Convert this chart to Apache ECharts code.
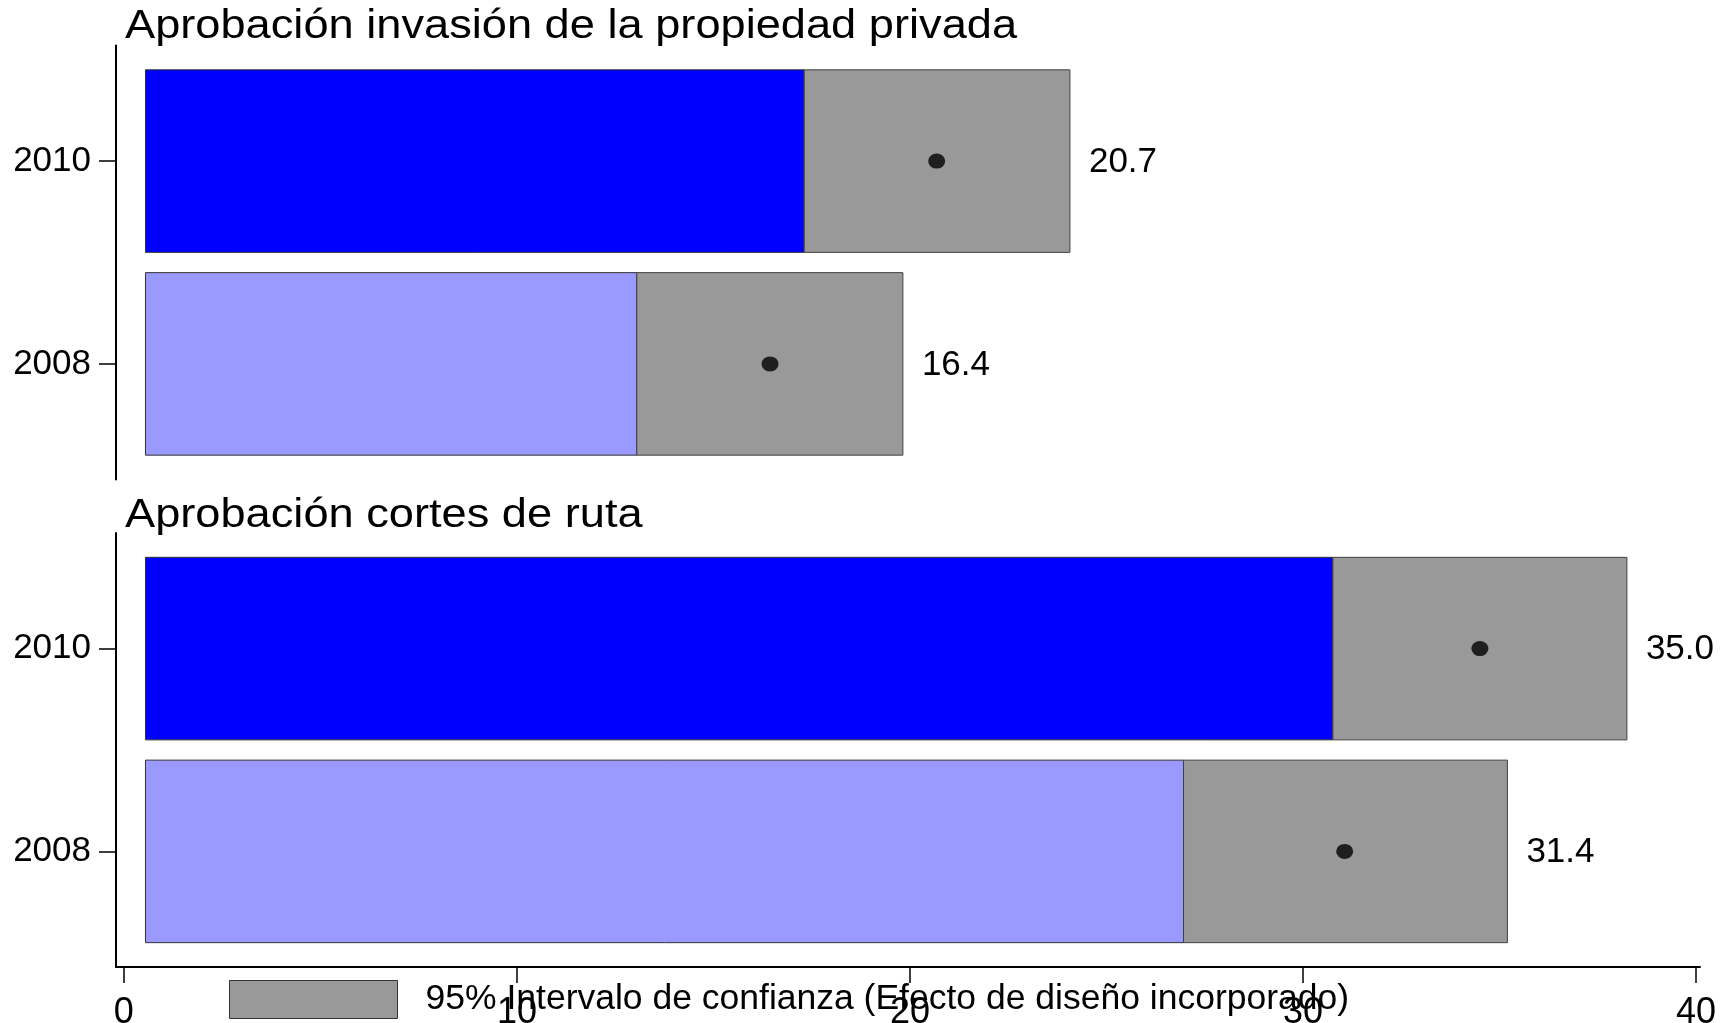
<!DOCTYPE html>
<html>
<head>
<meta charset="utf-8">
<script src="https://cdn.jsdelivr.net/npm/echarts@6/dist/echarts.min.js"></script>
<style>html,body{margin:0;padding:0;background:#fff}#c{width:1731px;height:1023px}</style>
</head>
<body>
<div id="c"></div>
<script>
const years = ['2008', '2010'];
const panelTitles = ['Aprobación invasión de la propiedad privada', 'Aprobación cortes de ruta'];
const barBase = 0.55;
const invasionLower = [13.05, 17.31];
const invasionUpper = [19.82, 24.07];
const invasionMean  = [16.44, 20.68];
const invasionLabel = ['16.4', '20.7'];
const cortesLower = [26.96, 30.76];
const cortesUpper = [35.20, 38.24];
const cortesMean  = [31.06, 34.50];
const cortesLabel = ['31.4', '35.0'];
const xTicks = [0, 10, 20, 30, 40];
const legendName = '95% Intervalo de confianza (Efecto de diseño incorporado)';

const FONT = '"Liberation Sans", Arial, sans-serif';
const barColors = ['#9999FF', '#0000FF'];
const yIdx = years.map((y, i) => i);

const chart = echarts.init(document.getElementById('c'), null, {renderer: 'canvas'});

function barSeries(gi, lower) {
  return {
    type: 'custom', xAxisIndex: gi, yAxisIndex: gi, silent: true,
    data: yIdx.map(i => [barBase, lower[i], i]),
    renderItem: function (params, api) {
      const s = api.coord([api.value(0), api.value(2)]);
      const e = api.coord([api.value(1), api.value(2)]);
      const h = api.size([0, 0.9])[1];
      return {type: 'rect', shape: {x: s[0], y: s[1] - h / 2, width: e[0] - s[0], height: h},
        style: {fill: barColors[api.value(2)], stroke: '#333', lineWidth: 1}};
    }
  };
}
function ciSeries(gi, lower, upper, labels) {
  return {
    type: 'custom', name: legendName, xAxisIndex: gi, yAxisIndex: gi, silent: true,
    itemStyle: {color: '#999999', borderColor: '#333', borderWidth: 1},
    data: yIdx.map(i => [lower[i], upper[i], i]),
    renderItem: function (params, api) {
      const s = api.coord([api.value(0), api.value(2)]);
      const e = api.coord([api.value(1), api.value(2)]);
      const h = api.size([0, 0.9])[1];
      return {type: 'group', children: [
        {type: 'rect', shape: {x: s[0], y: s[1] - h / 2, width: e[0] - s[0], height: h},
          style: {fill: '#999999', stroke: '#404040', lineWidth: 1}},
        {type: 'text', style: {x: e[0] + 19, y: e[1] + 1, text: labels[api.value(2)], fill: '#000',
          fontSize: 35, fontFamily: FONT, verticalAlign: 'middle', align: 'left'}}
      ]};
    }
  };
}
function dotSeries(gi, mean) {
  return {
    type: 'scatter', xAxisIndex: gi, yAxisIndex: gi, silent: true,
    symbol: 'circle', symbolSize: [17, 15], itemStyle: {color: '#000'},
    data: yIdx.map(i => [mean[i], i]), z: 5
  };
}

function yAxis(gi) {
  return {
    type: 'value', gridIndex: gi, min: -0.57, max: 1.57,
    splitLine: {show: false},
    axisLine: {show: true, onZero: false, lineStyle: {color: '#000', width: 2}},
    axisTick: {show: true, length: 17, customValues: yIdx, lineStyle: {color: '#000', width: 1.5}},
    axisLabel: {show: true, customValues: yIdx, margin: 25, fontSize: 35, fontFamily: FONT, color: '#000',
      formatter: v => years[Math.round(v)]}
  };
}
function xAxis(gi, show) {
  return {
    type: 'value', gridIndex: gi, min: -0.2, max: 40.1,
    splitLine: {show: false},
    axisLine: {show: show, onZero: false, lineStyle: {color: '#000', width: 2}},
    axisTick: {show: show, length: 16, customValues: xTicks, lineStyle: {color: '#000', width: 1.5}},
    axisLabel: {show: show, customValues: xTicks, margin: 28, fontSize: 36, fontFamily: FONT, color: '#000'}
  };
}

chart.setOption({
  animation: false,
  backgroundColor: '#fff',
  grid: [
    {left: 116, right: 31, top: 45.5, height: 434, outerBoundsMode: 'none', containLabel: false},
    {left: 116, right: 31, top: 533, height: 434, outerBoundsMode: 'none', containLabel: false}
  ],
  xAxis: [xAxis(0, false), xAxis(1, true)],
  yAxis: [yAxis(0), yAxis(1)],
  graphic: [
    {type: 'text', x: 125, y: 27, scaleX: 1.13, style: {x: 0, y: 0, text: panelTitles[0], fontSize: 40, fontFamily: FONT, fill: '#000', verticalAlign: 'middle'}},
    {type: 'text', x: 125, y: 515.5, scaleX: 1.13, style: {x: 0, y: 0, text: panelTitles[1], fontSize: 40, fontFamily: FONT, fill: '#000', verticalAlign: 'middle'}}
  ],
  legend: {
    left: 229, top: 980, itemWidth: 168, itemHeight: 38, selectedMode: false, padding: 0,
    data: [{name: legendName, icon: 'rect', itemStyle: {color: '#999999', borderColor: '#333', borderWidth: 1}}],
    textStyle: {fontSize: 35.5, fontFamily: FONT, color: '#000', padding: [0, 0, 0, 23]}
  },
  series: [
    barSeries(0, invasionLower), ciSeries(0, invasionLower, invasionUpper, invasionLabel), dotSeries(0, invasionMean),
    barSeries(1, cortesLower), ciSeries(1, cortesLower, cortesUpper, cortesLabel), dotSeries(1, cortesMean)
  ]
});
</script>
</body>
</html>
